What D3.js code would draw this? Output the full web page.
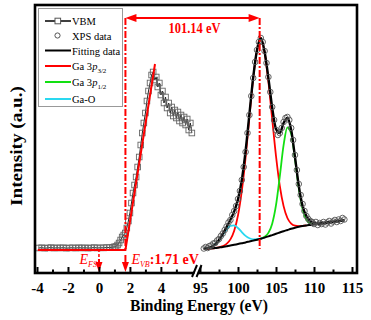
<!DOCTYPE html>
<html><head><meta charset="utf-8">
<script src="https://cdn.jsdelivr.net/npm/d3@7"></script>
<style>body{margin:0;background:#fff}svg{display:block}text{font-family:"Liberation Serif","Times New Roman",serif}</style>
</head><body>
<svg id="c" width="371" height="320"></svg>
<script>
// ---------------- data ----------------
const leftTicks = [-4, -2, 0, 2, 4];
const leftMinor = [-3, -1, 1, 3, 5];
const rightTicks = [95, 100, 105, 110, 115];
const rightMinor = [97.5, 102.5, 107.5, 112.5];

// VBM spectrum (binding energy eV, intensity a.u.)
const vbmE = [-3.9,-3.7,-3.5,-3.3,-3.1,-2.9,-2.7,-2.5,-2.3,-2.1,-1.9,-1.7,-1.5,-1.3,-1.1,-0.9,-0.7,-0.5,-0.3,-0.1,0.1,0.3,0.5,0.7,0.9,1.0,
  1.1,1.2,1.3,1.4,1.5,1.6,1.7,1.8,1.9,2.0,2.1,2.2,2.3,2.4,2.5,2.6,2.7,2.8,2.9,3.0,3.1,3.2,3.3,3.4,3.5,3.6,3.7,3.8,3.9,4.0,
  4.1,4.2,4.3,4.4,4.5,4.6,4.7,4.8,4.9,5.0,5.1,5.2,5.3,5.4,5.5,5.6,5.7,5.8,5.9,6.0];
const vbmI = [25,25.3,24.8,25.1,25.4,24.9,25.2,25,25.3,24.8,25.1,25.2,24.9,25.3,25,25.2,24.9,25.1,25.4,25,25.2,25.1,25.5,25.3,25.8,26.2,
  26.5,28,30,33,36,38,40,45,52,60,70,80,88,96,106,116,128,140,150,160,172,182,190,198,201,193,196,186,190,178,
  182,170,176,165,170,160,166,157,163,155,161,152,158,150,156,148,154,143,150,140];
// linear fit of the valence band edge
const vbmFitE = [-3.95, 1.71, 3.62];
const vbmFitI = [23, 23, 209];

// Ga 3p XPS data points
const xpsE = [95.5,95.75,96,96.25,96.5,96.75,97,97.25,97.5,97.75,98,98.25,98.5,98.75,99,99.25,99.5,99.75,100,100.25,
  100.5,100.75,101,101.25,101.5,101.75,102,102.25,102.5,102.75,103,103.25,103.5,103.75,104,104.25,104.5,104.75,105,105.25,
  105.5,105.75,106,106.25,106.5,106.75,107,107.25,107.5,107.75,108,108.25,108.5,108.75,109,109.25,109.5,109.75,110,110.25,
  110.5,110.75,111,111.25,111.5,111.75,112,112.25,112.5,112.75,113,113.25,113.5,113.75,114];
const xpsI = [24.5,26,25,27,27.5,29.5,30,32.5,34,37,39.5,43,46.5,50.5,53,58,62,67,74,82,
  93,106,121,140,158,177,195,211,223,231,235,231,222,210,196,181,166,153,143,138,
  140,145,151,155,156,153,145,133,118,103,89,78,69,62,57,54,52,51,49,51,
  48,50,49,51,48.5,50.5,52,49.5,51.5,53,51,53.5,52,55,53.5];

// fitted curves on a 0.5 eV grid
const gridE = [95.5,96,96.5,97,97.5,98,98.5,99,99.5,100,100.5,101,101.5,102,102.5,103,103.5,104,104.5,105,
  105.5,106,106.5,107,107.5,108,108.5,109,109.5,110,110.5,111,111.5,112,112.5,113,113.5,114];
const bgI = [24,24.3,24.6,25,25.5,26,26.7,27.4,28.2,29,29.8,30.6,31.5,32.4,33.3,34.3,35.4,36.6,37.9,39.2,
  40.5,41.8,43,44.2,45.3,46.2,47,47.6,48.1,48.6,49.1,49.6,50.1,50.6,51.1,51.6,52.1,52.6];
const fitI = [24.2,24.9,26.2,28.7,33,39,46,53.3,61.7,73.6,93.1,122.2,158.8,195.7,223.1,235,221.3,195.1,165.4,144,
  140,150,155,143,116,87,67,57,52,50,49.8,50,50.3,50.7,51.2,51.7,52.2,52.7];
const ga32E = [95.5,96,96.5,97,97.5,98,98.5,99,99.5,100,100.5,101,101.5,102,102.5,103,103.5,104,104.5,105,105.5,106,106.5,107,107.5,108,108.5,109];
const ga32I = [24,24.3,24.6,25,25.7,26.9,29.1,33.6,42.3,57.6,82,115.7,155.6,194.4,222.6,234,220.5,191.6,154,117,87.2,66.9,55,49.4,47.3,46.9,47.2,47.6];
const ga12E = [102.5,103,103.5,104,104.5,105,105.5,106,106.5,107,107.5,108,108.5,109,109.5,110,110.5];
const ga12I = [33.3,34.4,36.2,40.1,49.3,67.8,96.7,127.8,145.5,139.3,114,84.9,63.9,53.4,49.6,48.9,49.1];
const gaOE = [95.5,96,96.5,97,97.5,98,98.5,99,99.5,100,100.5,101,101.5,102,102.5,103,103.5];
const gaOI = [24.2,24.9,26.2,28.7,32.8,38.1,43.6,47.1,47.6,45,40.9,37.1,34.7,33.7,33.8,34.3,35.4];

const vbmEdge = 1.71;      // eV
const corePeak = 102.85;   // eV
const splitText = "101.14 eV";
const legendItems = ["VBM", "XPS data", "Fitting data", "Ga 3p3/2", "Ga 3p1/2", "Ga-O"];

// ---------------- scales ----------------
const svg = d3.select("#c");
const xL = d3.scaleLinear().domain([-4.13, 6.3]).range([35, 196.5]);
const xR = d3.scaleLinear().domain([95, 115.66]).range([200, 357]);
const y = d3.scaleLinear().domain([0, 268]).range([273, 5]);
const RED = "#ff0000", GREEN = "#12e012", CYAN = "#2ad8f0";

// ---------------- curves ----------------
const lineR = d3.line().x(d => xR(d[0])).y(d => y(d[1])).curve(d3.curveMonotoneX);
const zip = (a, b) => a.map((v, i) => [v, b[i]]);

const g = svg.append("g");
g.append("path").attr("d", lineR(zip(ga32E, ga32I))).attr("fill", "none").attr("stroke", RED).attr("stroke-width", 1.8);
g.append("path").attr("d", lineR(zip(ga12E, ga12I))).attr("fill", "none").attr("stroke", GREEN).attr("stroke-width", 1.8);
g.append("path").attr("d", lineR(zip(gaOE, gaOI))).attr("fill", "none").attr("stroke", CYAN).attr("stroke-width", 1.8);
g.append("path").attr("d", lineR(zip(gridE, bgI))).attr("fill", "none").attr("stroke", "#000").attr("stroke-width", 2);
g.append("path").attr("d", lineR(zip(gridE, fitI))).attr("fill", "none").attr("stroke", "#000").attr("stroke-width", 2.4);
g.selectAll("circle.xps").data(zip(xpsE, xpsI)).join("circle").attr("class", "xps")
  .attr("cx", d => xR(d[0])).attr("cy", d => y(d[1])).attr("r", 2.8)
  .attr("fill", "none").attr("stroke", "#555").attr("stroke-width", 0.9);

// VBM
const lineL = d3.line().x(d => xL(d[0])).y(d => y(d[1]));
g.append("path").attr("d", lineL(zip(vbmE, vbmI))).attr("fill", "none").attr("stroke", "#222").attr("stroke-width", 1);
g.selectAll("rect.vbm").data(zip(vbmE, vbmI)).join("rect").attr("class", "vbm")
  .attr("x", d => xL(d[0]) - 2.8).attr("y", d => y(d[1]) - 2.8).attr("width", 5.6).attr("height", 5.6)
  .attr("fill", "none").attr("stroke", "#666").attr("stroke-width", 0.9);
g.append("path").attr("d", lineL(zip(vbmFitE, vbmFitI))).attr("fill", "none").attr("stroke", RED).attr("stroke-width", 2);

// ---------------- annotations ----------------
const xa = xL(vbmEdge), xb = xR(corePeak);
const yTop = y(255), yBase = y(24);
[xa, xb].forEach(xx => {
  svg.append("line").attr("x1", xx).attr("x2", xx).attr("y1", yTop).attr("y2", yBase)
    .attr("stroke", RED).attr("stroke-width", 2).attr("stroke-dasharray", "7,2,2,2");
});
svg.append("line").attr("x1", xa + 6).attr("x2", xb - 6).attr("y1", yTop).attr("y2", yTop)
  .attr("stroke", RED).attr("stroke-width", 2);
svg.append("path").attr("d", `M${xa},${yTop}L${xa + 11},${yTop - 4}L${xa + 11},${yTop + 4}Z`).attr("fill", RED);
svg.append("path").attr("d", `M${xb},${yTop}L${xb - 11},${yTop - 4}L${xb - 11},${yTop + 4}Z`).attr("fill", RED);
svg.append("text").attr("x", (xa + xb) / 2 + 2).attr("y", 33).attr("text-anchor", "middle")
  .attr("font-size", 14).attr("font-weight", "bold").attr("fill", RED).attr("textLength", 52).attr("lengthAdjust", "spacingAndGlyphs").text(splitText);

// bottom arrows
const xF = xL(0);
svg.append("line").attr("x1", xF).attr("x2", xF).attr("y1", y(24)).attr("y2", y(10))
  .attr("stroke", RED).attr("stroke-width", 1.5).attr("stroke-dasharray", "3,2");
[[xF, y(14)], [xa, y(18)]].forEach(([xx, y0]) => {
  svg.append("line").attr("x1", xx).attr("x2", xx).attr("y1", y0).attr("y2", y(8)).attr("stroke", RED).attr("stroke-width", 2);
  svg.append("path").attr("d", `M${xx - 3.5},${y(11)}L${xx + 3.5},${y(11)}L${xx},${y(1)}Z`).attr("fill", RED);
});
const tF = svg.append("text").attr("x", xF - 2).attr("y", 264).attr("text-anchor", "end").attr("fill", RED).attr("font-size", 14);
tF.append("tspan").attr("font-style", "italic").text("E");
tF.append("tspan").attr("font-style", "italic").attr("font-size", 8).attr("dy", 3).text("FS");
const tV = svg.append("text").attr("x", xa + 6).attr("y", 264).attr("fill", RED).attr("font-size", 14).attr("font-weight", "bold");
tV.append("tspan").attr("font-style", "italic").attr("font-weight", "normal").text("E");
tV.append("tspan").attr("font-style", "italic").attr("font-weight", "normal").attr("font-size", 8).attr("dy", 3).text("VB");
tV.append("tspan").attr("dy", -3).text(":1.71 eV");

// ---------------- axes ----------------
function drawAxis(scale, major, minor) {
  const a = svg.append("g").attr("transform", "translate(0,273)")
    .call(d3.axisBottom(scale).tickValues(major).tickSizeInner(-6).tickSizeOuter(0).tickPadding(9).tickFormat(d3.format("d")));
  a.select(".domain").remove();
  a.selectAll("line").attr("stroke", "#000").attr("stroke-width", 2);
  a.selectAll("text").attr("font-size", 15).attr("font-weight", "bold").attr("fill", "#000")
    .attr("font-family", "Liberation Serif, serif").text(d => d < 0 ? "-" + Math.abs(d) : d);
  const m = svg.append("g").attr("transform", "translate(0,273)")
    .call(d3.axisBottom(scale).tickValues(minor).tickSizeInner(-3.5).tickSizeOuter(0).tickFormat(""));
  m.select(".domain").remove();
  m.selectAll("text").remove();
  m.selectAll("line").attr("stroke", "#000").attr("stroke-width", 2);
}
drawAxis(xL, leftTicks, leftMinor);
drawAxis(xR, rightTicks, rightMinor);

// frame
svg.append("rect").attr("x", 35).attr("y", 5).attr("width", 322).attr("height", 268)
  .attr("fill", "none").attr("stroke", "#000").attr("stroke-width", 2.6);

// axis break
svg.append("path").attr("d", "M193.5,276 L197.5,266 L200.5,266 L196.5,276 Z").attr("fill", "#fff");
svg.append("line").attr("x1", 192).attr("y1", 277).attr("x2", 197).attr("y2", 265).attr("stroke", "#000").attr("stroke-width", 2);
svg.append("line").attr("x1", 196.5).attr("y1", 277).attr("x2", 201.5).attr("y2", 265).attr("stroke", "#000").attr("stroke-width", 2);

// titles
svg.append("text").attr("x", 199).attr("y", 311).attr("text-anchor", "middle").attr("font-size", 16)
  .attr("font-weight", "bold").attr("textLength", 138).attr("lengthAdjust", "spacingAndGlyphs").text("Binding Energy (eV)");
svg.append("text").attr("transform", "translate(22,146) rotate(-90)").attr("text-anchor", "middle").attr("font-size", 17)
  .attr("font-weight", "bold").attr("textLength", 120).attr("lengthAdjust", "spacingAndGlyphs").text("Intensity (a.u.)");

// ---------------- legend ----------------
const lg = svg.append("g");
lg.append("rect").attr("x", 38.5).attr("y", 8.5).attr("width", 84).attr("height", 98)
  .attr("fill", "#fff").attr("stroke", "#999").attr("stroke-width", 1);
const rowsY = [21, 35.5, 50.5, 66, 82, 99];
const colors = ["#222", null, "#000", RED, GREEN, CYAN];
legendItems.forEach((name, i) => {
  const yy = rowsY[i];
  if (i === 0) {
    lg.append("line").attr("x1", 45).attr("x2", 71).attr("y1", yy).attr("y2", yy).attr("stroke", "#000").attr("stroke-width", 1.5);
    lg.append("rect").attr("x", 55).attr("y", yy - 2.8).attr("width", 5.6).attr("height", 5.6).attr("fill", "#fff").attr("stroke", "#555").attr("stroke-width", 1);
  } else if (i === 1) {
    lg.append("circle").attr("cx", 57.5).attr("cy", yy).attr("r", 2.6).attr("fill", "none").attr("stroke", "#555").attr("stroke-width", 1);
  } else {
    lg.append("line").attr("x1", 45).attr("x2", 71).attr("y1", yy).attr("y2", yy).attr("stroke", colors[i]).attr("stroke-width", 2);
  }
  const t = lg.append("text").attr("x", 72).attr("y", yy + 4).attr("font-size", 10.5);
  const m = name.match(/^Ga 3p(\d\/\d)$/);
  if (m) {
    t.append("tspan").text("Ga 3");
    t.append("tspan").attr("font-style", "italic").text("p");
    t.append("tspan").attr("font-size", 7).attr("dy", 3).text(m[1]);
  } else {
    t.text(name);
  }
});
</script>
</body></html>
